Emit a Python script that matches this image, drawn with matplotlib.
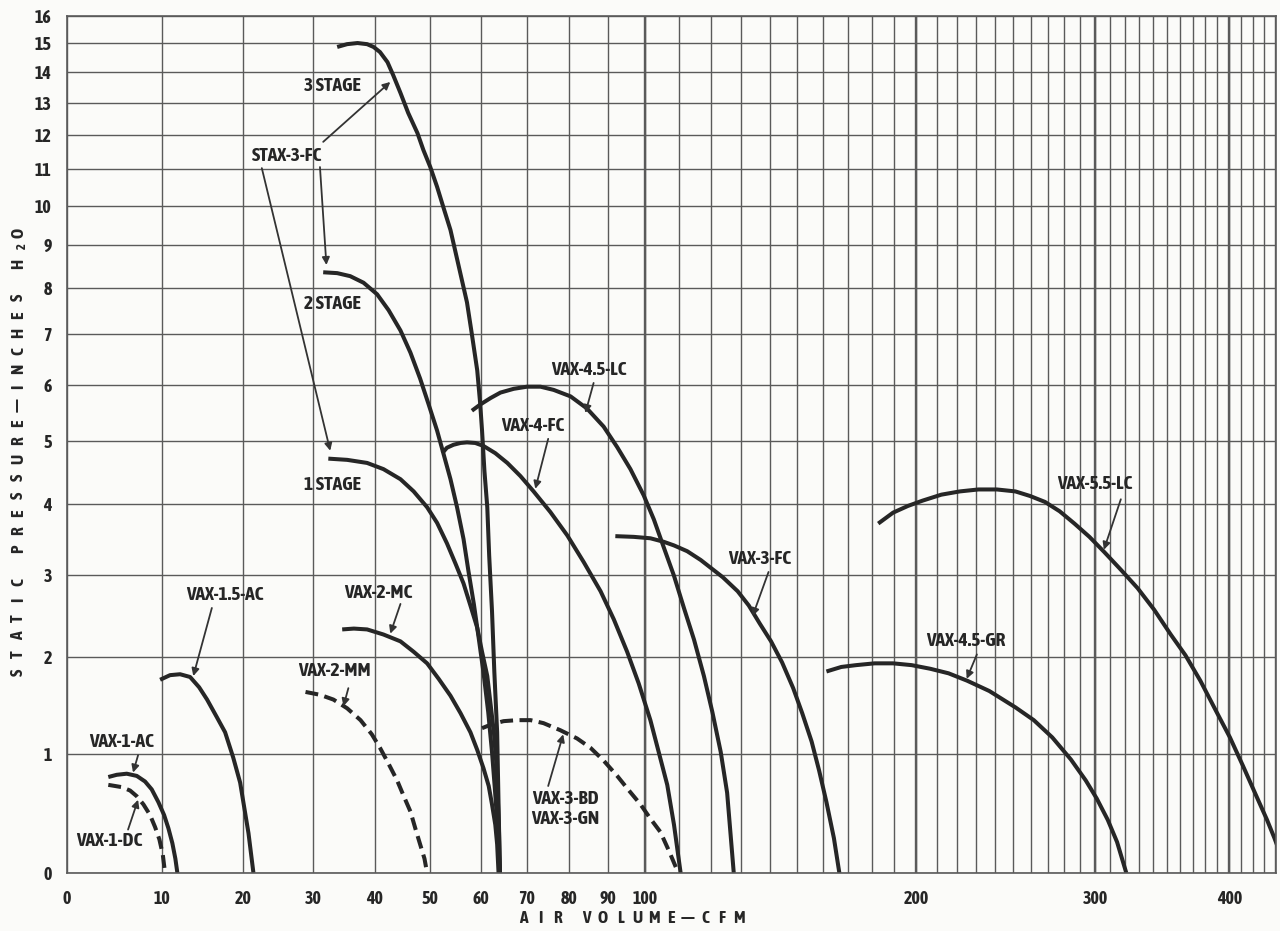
import numpy as np
import matplotlib
matplotlib.use("Agg")
import matplotlib.pyplot as plt
from matplotlib import font_manager

# pick a narrow bold face if one is installed (the print uses a condensed grotesque)
def wnum(w):
    return w if isinstance(w, int) else font_manager.weight_dict.get(w, 400)

fonts = font_manager.fontManager.ttflist
squeezed = ('condensed', 'semi-condensed', 'extra-condensed')
by_name = [f.name for f in fonts if wnum(f.weight) >= 600 and ('Narrow' in f.name or 'Condensed' in f.name)]
by_stretch = [f.name for f in fonts if wnum(f.weight) >= 600 and f.stretch in squeezed]
if by_name:
    fam = sorted(by_name)[0]
elif by_stretch:
    fam = sorted(by_stretch)[0]
    plt.rcParams['font.stretch'] = 'condensed'
else:
    fam = 'Liberation Sans'
plt.rcParams['font.family'] = [fam, 'DejaVu Sans']
plt.rcParams['font.weight'] = 'bold'

# fan curves: air volume (CFM) and static pressure (in. H2O)
vax_1_ac_cfm = [4.13, 5.01, 6.08, 7.17, 8.08, 8.83, 9.58, 10.24, 10.74, 11.20, 11.55, 11.79]
vax_1_ac_sp = [0.79, 0.81, 0.82, 0.80, 0.75, 0.68, 0.57, 0.46, 0.35, 0.23, 0.11, 0.0]

vax_1_dc_cfm = [4.13, 4.84, 5.54, 6.44, 7.17, 7.90, 8.64, 9.21, 9.70, 10.09, 10.35]
vax_1_dc_sp = [0.72, 0.71, 0.70, 0.67, 0.62, 0.55, 0.46, 0.36, 0.26, 0.14, 0.0]

vax_15_ac_cfm = [9.78, 10.93, 12.11, 13.31, 14.41, 15.40, 16.63, 17.69, 18.74, 19.66, 20.78, 21.45]
vax_15_ac_sp = [1.75, 1.80, 1.81, 1.78, 1.67, 1.54, 1.36, 1.21, 0.97, 0.74, 0.31, 0.0]

vax_2_mm_cfm = [28.9, 31.1, 33.2, 35.4, 37.6, 39.5, 40.9, 42.4, 43.9, 45.1, 46.3, 47.2, 48.1, 48.9, 49.4]
vax_2_mm_sp = [1.62, 1.59, 1.54, 1.45, 1.33, 1.19, 1.06, 0.91, 0.76, 0.62, 0.49, 0.35, 0.22, 0.11, 0.0]

vax_2_mc_cfm = [34.6, 36.5, 38.7, 41.5, 44.5, 46.9, 49.4, 51.6, 53.9, 55.9, 57.9, 59.3, 60.6,
                61.7, 62.4, 63.1, 63.5, 63.8]
vax_2_mc_sp = [2.32, 2.33, 2.32, 2.26, 2.18, 2.06, 1.93, 1.76, 1.58, 1.40, 1.21, 1.04, 0.87,
               0.71, 0.55, 0.38, 0.22, 0.0]

stage_1_cfm = [32.4, 35.4, 38.7, 41.5, 44.5, 46.9, 49.4, 51.3, 53.2, 54.9, 56.5, 57.9, 59.3,
               60.3, 61.4, 62.1, 62.8, 63.3, 63.6, 63.9, 64.1]
stage_1_sp = [4.71, 4.69, 4.64, 4.54, 4.38, 4.19, 3.95, 3.72, 3.43, 3.15, 2.89, 2.61, 2.34,
              2.06, 1.79, 1.49, 1.21, 0.93, 0.65, 0.32, 0.0]

stage_2_cfm = [31.6, 33.8, 35.9, 38.1, 40.4, 42.4, 44.5, 46.3, 48.1, 49.7, 51.3, 52.6, 53.9,
               55.2, 56.5, 57.5, 58.6, 59.6, 60.6, 61.6, 62.4, 63.0, 63.5, 64.1]
stage_2_sp = [8.36, 8.34, 8.27, 8.12, 7.86, 7.51, 7.08, 6.63, 6.12, 5.64, 5.18, 4.77, 4.38,
              3.95, 3.49, 3.05, 2.63, 2.22, 1.83, 1.41, 1.02, 0.69, 0.41, 0.0]

stage_3_cfm = [33.8, 35.4, 37.1, 38.7, 39.8, 40.9, 42.2, 43.2, 44.5, 45.9, 47.6, 48.7, 50.0,
               51.3, 52.5, 53.9, 57.2, 58.2, 59.3, 59.9, 60.3, 60.8, 61.4, 61.8, 62.4, 62.9,
               63.5, 63.8, 64.1]
stage_3_sp = [14.87, 14.97, 15.01, 14.97, 14.87, 14.69, 14.34, 13.90, 13.31, 12.67, 12.05,
              11.55, 11.06, 10.51, 9.97, 9.38, 7.68, 7.00, 6.28, 5.67, 5.18, 4.51, 3.95, 3.26,
              2.54, 1.83, 1.21, 0.55, 0.0]

vax_4_fc_cfm = [52.3, 53.2, 54.5, 55.9, 57.2, 58.9, 60.6, 63.1, 65.7, 68.6, 71.6, 75.5, 79.6,
                83.7, 88.0, 91.5, 95.1, 98.3, 101.6, 104.0, 106.5, 108.5, 110.5]
vax_4_fc_sp = [4.80, 4.89, 4.94, 4.97, 4.98, 4.97, 4.92, 4.80, 4.64, 4.43, 4.19, 3.88, 3.54,
               3.17, 2.79, 2.44, 2.06, 1.71, 1.33, 1.02, 0.72, 0.38, 0.0]

vax_45_lc_cfm = [58.2, 59.9, 62.1, 64.2, 67.1, 70.1, 73.2, 76.3, 80.4, 84.5, 88.8, 92.4, 96.0,
                 99.7, 102.6, 105.5, 108.5, 111.5, 114.6, 117.7, 120.4, 123.1, 125.2, 127.4]
vax_45_lc_sp = [5.53, 5.64, 5.76, 5.86, 5.93, 5.97, 5.97, 5.91, 5.79, 5.57, 5.25, 4.90, 4.54,
                4.13, 3.77, 3.37, 2.99, 2.58, 2.20, 1.79, 1.41, 1.02, 0.65, 0.0]

vax_3_bd_cfm = [60.3, 62.4, 64.9, 67.9, 70.9, 73.9, 77.9, 82.0, 85.4, 88.8, 92.4, 95.6, 98.8,
                101.6, 104.5, 107.0, 109.8]
vax_3_bd_sp = [1.25, 1.29, 1.32, 1.33, 1.33, 1.30, 1.23, 1.15, 1.06, 0.94, 0.80, 0.67, 0.55,
               0.43, 0.32, 0.17, 0.0]

vax_3_fc_cfm = [91.9, 96.9, 101.6, 105.5, 108.5, 112.5, 116.7, 123.8, 128.7, 132.5,
                136.3, 140.3, 144.3, 148.4, 151.8, 155.4, 158.3, 161.2, 164.2, 166.4]
vax_3_fc_sp = [3.53, 3.52, 3.50, 3.45, 3.40, 3.32, 3.20, 2.97, 2.79, 2.61, 2.39, 2.18,
               1.94, 1.66, 1.40, 1.12, 0.85, 0.57, 0.27, 0.0]

vax_45_gr_cfm = [161.2, 167.2, 173.3, 181.2, 189.4, 197.9, 206.7, 215.7, 225.1, 236.8, 251.2,
                 261.8, 272.8, 284.3, 293.7, 300.9, 308.2, 314.5, 320.9]
vax_45_gr_sp = [1.84, 1.89, 1.91, 1.93, 1.93, 1.91, 1.87, 1.82, 1.74, 1.63, 1.46, 1.33, 1.16,
                0.95, 0.76, 0.60, 0.42, 0.24, 0.0]

vax_55_lc_cfm = [182.8, 189.4, 196.2, 203.1, 212.1, 221.4, 231.0, 240.9, 251.2, 259.6, 268.4,
                 277.3, 286.5, 296.1, 305.8, 317.1, 328.8, 340.7, 353.1, 364.4, 376.1, 388.1,
                 400.4, 411.6, 422.9, 432.8, 439.6, 445.7]
vax_55_lc_sp = [3.71, 3.87, 3.97, 4.05, 4.14, 4.19, 4.22, 4.22, 4.19, 4.12, 4.03, 3.89, 3.71,
                3.52, 3.31, 3.07, 2.83, 2.56, 2.26, 2.02, 1.74, 1.44, 1.16, 0.89, 0.63, 0.42,
                0.27, 0.13]

x_labeled = [0, 10, 20, 30, 40, 50, 60, 70, 80, 90, 100, 200, 300, 400]
y_ticks = list(range(0, 17))

# axis scales of the printed chart (log with an offset)
XC = 51.5
YC = 4.0
def x_fwd(x):
    return np.log(np.maximum(np.asarray(x, float) + XC, 1e-6))
def x_inv(u):
    return np.exp(u) - XC
def y_fwd(y):
    return np.log(np.maximum(np.asarray(y, float) + YC, 1e-6))
def y_inv(u):
    return np.exp(u) - YC

ink = '#262626'
grid_c = '#5a5a5a'
paper = '#fbfbf9'

fig = plt.figure(figsize=(12.8, 9.31), dpi=100)
fig.patch.set_facecolor(paper)
ax = fig.add_axes([67 / 1280, 1 - 873 / 931, (1276 - 67) / 1280, (873 - 16) / 931])
ax.set_facecolor(paper)
ax.set_xscale('function', functions=(x_fwd, x_inv))
ax.set_yscale('function', functions=(y_fwd, y_inv))
ax.set_xlim(0, 441)
ax.set_ylim(0, 16)

ax.set_xticks(x_labeled)
ax.set_xticklabels([str(v) for v in x_labeled])
ax.set_xticks([v for v in range(0, 441, 10) if v not in x_labeled], minor=True)
ax.set_yticks(y_ticks)
ax.set_yticklabels([str(v) for v in y_ticks])
ax.tick_params(which='both', length=0)
ax.tick_params(axis='x', pad=12, labelsize=13, labelcolor=ink)
ax.tick_params(axis='y', pad=11, labelsize=13, labelcolor=ink)
ax.grid(which='both', color=grid_c, lw=1.0)
for v in [100, 200, 300, 400]:
    ax.axvline(v, color=grid_c, lw=1.7, zorder=0.6)
for s in ax.spines.values():
    s.set_color(grid_c)
    s.set_linewidth(1.2)
ax.set_axisbelow(True)

lw = 2.9
solid = [(vax_1_ac_cfm, vax_1_ac_sp), (vax_15_ac_cfm, vax_15_ac_sp),
         (vax_2_mc_cfm, vax_2_mc_sp), (stage_1_cfm, stage_1_sp),
         (stage_2_cfm, stage_2_sp), (stage_3_cfm, stage_3_sp),
         (vax_4_fc_cfm, vax_4_fc_sp), (vax_45_lc_cfm, vax_45_lc_sp),
         (vax_3_fc_cfm, vax_3_fc_sp), (vax_45_gr_cfm, vax_45_gr_sp),
         (vax_55_lc_cfm, vax_55_lc_sp)]
for cfm, sp in solid:
    ax.plot(cfm, sp, color=ink, lw=lw, solid_capstyle='butt', solid_joinstyle='round')

dashed = [(vax_1_dc_cfm, vax_1_dc_sp), (vax_2_mm_cfm, vax_2_mm_sp), (vax_3_bd_cfm, vax_3_bd_sp)]
for cfm, sp in dashed:
    ax.plot(cfm, sp, color=ink, lw=lw, dashes=(3.2, 1.6), dash_capstyle='butt',
            dash_joinstyle='round')

# labels with pointer arrows
arrow = dict(arrowstyle='-|>', color='#333333', lw=1.3, mutation_scale=11, shrinkA=0, shrinkB=0)
tfont = dict(fontsize=14, fontweight='bold', color=ink, ha='center', va='center')

def label(txt, pos, tails=(), heads=()):
    ax.text(pos[0], pos[1], txt, linespacing=1.1, **tfont)
    for t, h in zip(tails, heads):
        ax.annotate('', xy=h, xytext=t, arrowprops=arrow)

label('VAX-1-AC', (5.47, 1.12), [(7.31, 0.99)], [(6.76, 0.83)])
label('VAX-1-DC', (4.21, 0.25), [(6.22, 0.34)], [(7.31, 0.59)])
label('VAX-1.5-AC', (17.6, 2.74), [(16.0, 2.58)], [(13.7, 1.79)])
label('VAX-2-MC', (40.6, 2.77), [(44.5, 2.63)], [(42.7, 2.27)])
label('VAX-2-MM', (33.3, 1.85), [(35.6, 1.66)], [(34.8, 1.47)])
label('VAX-3-BD\nVAX-3-GN', (79.1, 0.51), [(75.0, 0.71)], [(78.6, 1.19)])
label('VAX-4-FC', (71.3, 5.26), [(75.0, 5.04)], [(72.0, 4.23)])
label('VAX-4.5-LC', (85.1, 6.29), [(86.2, 6.04)], [(84.1, 5.49)])
label('VAX-3-FC', (136.3, 3.21), [(139.4, 3.04)], [(133.8, 2.48)])
label('VAX-4.5-GR', (224.4, 2.18), [(230.2, 2.03)], [(224.9, 1.76)])
label('VAX-5.5-LC', (299.6, 4.30), [(317.1, 4.07)], [(305.6, 3.34)])
label('STAX-3-FC', (26.2, 11.37),
      [(31.6, 11.79), (31.1, 11.06), (22.6, 11.03)],
      [(42.7, 13.67), (32.1, 8.53), (32.7, 4.84)])
label('3 STAGE', (33.0, 13.54))
label('2 STAGE', (33.0, 7.64))
label('1 STAGE', (33.0, 4.29))

# letter-spaced axis titles, one character at a time (pixel layout of the print)
def spaced(text, start, fixed, step, gap, vertical=False):
    pos = start
    for ch in text:
        if ch == ' ':
            pos += gap if not vertical else -gap
            continue
        size, shift, adv = 12.5, 0, step
        if ch == '_':
            # subscript 2 of H2O
            ch, size, shift, adv = '2', 9, 4, step * 0.75
        if vertical:
            fig.text((fixed + shift) / 1280, 1 - pos / 931, ch, rotation=90, fontsize=size,
                     fontweight='bold', color=ink, ha='center', va='center')
            pos -= adv
        else:
            fig.text(pos / 1280, 1 - (fixed - shift) / 931, ch, fontsize=size,
                     fontweight='bold', color=ink, ha='center', va='center')
            pos += adv

spaced('AIR VOLUME—CFM', 523, 918, 17, 12)
spaced('STATIC PRESSURE—INCHES H_O', 672, 18, 18, 15, vertical=True)

fig.savefig('out.png', dpi=100, facecolor=fig.get_facecolor())
